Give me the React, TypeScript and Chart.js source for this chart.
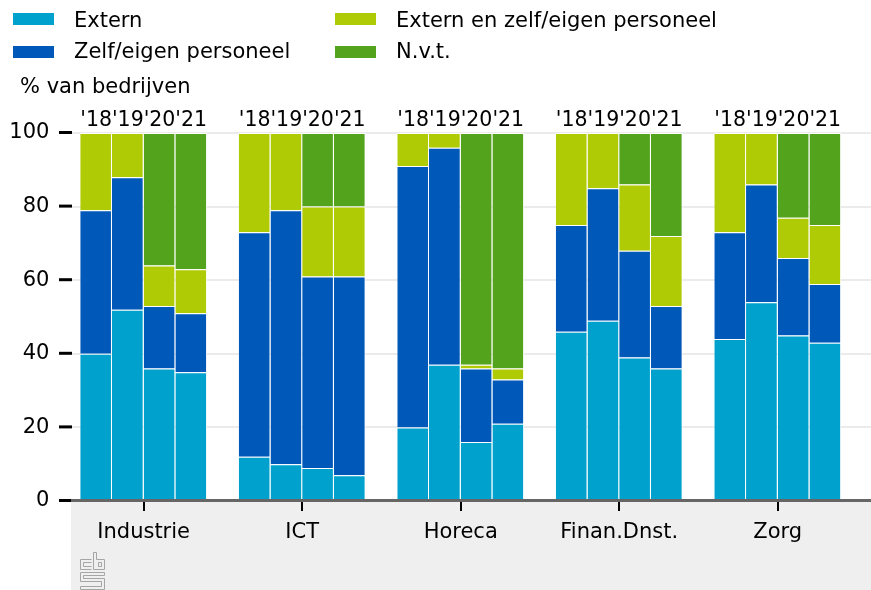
import React, { useEffect, useRef } from "react";
import { Chart, registerables } from "chart.js";

Chart.register(...registerables);

const categories = ["Industrie", "ICT", "Horeca", "Finan.Dnst.", "Zorg"];
const years = ["'18", "'19", "'20", "'21"];

// values per category (rows) and per year '18..'21 (columns), % van bedrijven
const extern = [
  [40, 52, 36, 35],
  [12, 10, 9, 7],
  [20, 37, 16, 21],
  [46, 49, 39, 36],
  [44, 54, 45, 43],
];
const zelfEigen = [
  [39, 36, 17, 16],
  [61, 69, 52, 54],
  [71, 59, 20, 12],
  [29, 36, 29, 17],
  [29, 32, 21, 16],
];
const externEnZelf = [
  [21, 12, 11, 12],
  [27, 21, 19, 19],
  [9, 4, 1, 3],
  [25, 15, 18, 19],
  [27, 14, 11, 16],
];
const nvt = [
  [0, 0, 36, 37],
  [0, 0, 20, 20],
  [0, 0, 63, 64],
  [0, 0, 14, 28],
  [0, 0, 23, 25],
];

const yTicks = [0, 20, 40, 60, 80, 100];

const series = [
  { label: "Extern", color: "#00a1cd", values: extern },
  { label: "Zelf/eigen personeel", color: "#0058b8", values: zelfEigen },
  { label: "Extern en zelf/eigen personeel", color: "#afcb05", values: externEnZelf },
  { label: "N.v.t.", color: "#53a31d", values: nvt },
];

const FONT = "'DejaVu Sans', sans-serif";

const decorPlugin = {
  id: "decor",
  beforeDraw(chart: any) {
    const { ctx, chartArea, scales } = chart;
    const y = scales.y;
    ctx.save();
    ctx.fillStyle = "#efefef";
    ctx.fillRect(71, chartArea.bottom, chart.width - 71, chart.height - chartArea.bottom);
    ctx.strokeStyle = "#ebebeb";
    ctx.lineWidth = 2;
    for (const v of yTicks) {
      if (v === 0) continue;
      const py = Math.round(y.getPixelForValue(v));
      ctx.beginPath();
      ctx.moveTo(72, py);
      ctx.lineTo(chart.width, py);
      ctx.stroke();
    }
    ctx.strokeStyle = "#000";
    ctx.lineWidth = 3;
    for (const v of yTicks) {
      const py = y.getPixelForValue(v);
      ctx.beginPath();
      ctx.moveTo(59, py - 0.5);
      ctx.lineTo(72, py - 0.5);
      ctx.stroke();
    }
    ctx.restore();
  },
  afterDatasetsDraw(chart: any) {
    const { ctx, chartArea } = chart;
    ctx.save();
    // axis line
    ctx.strokeStyle = "#666666";
    ctx.lineWidth = 3;
    ctx.beginPath();
    ctx.moveTo(71, chartArea.bottom - 0.5);
    ctx.lineTo(chart.width, chartArea.bottom - 0.5);
    ctx.stroke();

    // year labels above every bar
    ctx.fillStyle = "#000";
    ctx.font = `20.5px ${FONT}`;
    ctx.textAlign = "center";
    ctx.textBaseline = "alphabetic";
    years.forEach((yr, j) => {
      const meta = chart.getDatasetMeta(j * series.length);
      categories.forEach((_, i) => {
        const el = meta.data[i];
        if (el) ctx.fillText(yr, el.x, 126);
      });
    });

    // small logo
    ctx.strokeStyle = "#a5a5a5";
    ctx.lineWidth = 1;
    const L = (pts: number[][]) => {
      ctx.beginPath();
      ctx.moveTo(pts[0][0] + 0.5, pts[0][1] + 0.5);
      for (let k = 1; k < pts.length; k++) ctx.lineTo(pts[k][0] + 0.5, pts[k][1] + 0.5);
      ctx.stroke();
    };
    // c
    L([[91, 559], [80, 559], [80, 569], [91, 569]]);
    L([[91, 562], [83, 562], [83, 566], [91, 566]]);
    // b
    L([[93, 552], [93, 569], [104, 569], [104, 559], [96, 559], [96, 552], [93, 552]]);
    L([[98, 562], [101, 562], [101, 566], [98, 566], [98, 562]]);
    // s
    L([[104, 572], [80, 572], [80, 581], [101, 581], [101, 586], [80, 586], [80, 589], [104, 589], [104, 578], [83, 578], [83, 575], [104, 575], [104, 572]]);
    ctx.restore();
  },
};

export default function App() {
  const canvasRef = useRef<HTMLCanvasElement | null>(null);

  useEffect(() => {
    if (!canvasRef.current) return;
    const datasets: any[] = [];
    years.forEach((yr, j) => {
      series.forEach((s) => {
        datasets.push({
          label: s.label,
          stack: yr,
          data: categories.map((_, i) => (s.values[i][j] ? s.values[i][j] : null)),
          backgroundColor: s.color,
          borderColor: "#ffffff",
          borderWidth: { top: 1, right: 1, left: 0, bottom: 0 },
          borderSkipped: false,
          categoryPercentage: 0.8,
          barPercentage: 1.0,
        });
      });
    });

    const chart = new Chart(canvasRef.current, {
      type: "bar",
      data: { labels: categories, datasets },
      plugins: [decorPlugin as any],
      options: {
        responsive: false,
        animation: false,
        layout: { padding: { top: 133, right: 14, bottom: 0, left: 0 } },
        plugins: { legend: { display: false }, tooltip: { enabled: false } },
        scales: {
          x: {
            stacked: true,
            offset: true,
            grid: {
              display: true,
              drawOnChartArea: false,
              offset: false,
              tickLength: 10,
              color: "#000",
              lineWidth: 2,
            },
            border: { display: false },
            ticks: { color: "#000", font: { family: FONT, size: 21 }, padding: 9, maxRotation: 0 },
            afterFit: (scale: any) => {
              scale.height = 89;
            },
          },
          y: {
            stacked: true,
            min: 0,
            max: 100,
            grid: { display: false, drawTicks: false },
            border: { display: false },
            ticks: { stepSize: 20, color: "#000", font: { family: FONT, size: 21 }, padding: 15 },
            afterFit: (scale: any) => {
              scale.width = 64.4;
            },
          },
        },
      },
    });
    return () => chart.destroy();
  }, []);

  const legendText: React.CSSProperties = {
    position: "absolute",
    fontFamily: FONT,
    fontSize: 21,
    lineHeight: "24px",
    color: "#000",
    whiteSpace: "nowrap",
  };

  return (
    <div style={{ position: "absolute", left: 0, top: 0, width: 871, height: 590, background: "#fff", overflow: "hidden" }}>
      <canvas ref={canvasRef} width={871} height={590} style={{ display: "block", position: "absolute", left: 0, top: 0 }} />
      {series.map((s, i) => {
        const col = Math.floor(i / 2);
        const row = i % 2;
        const sx = col === 0 ? 13 : 335;
        const tx = col === 0 ? 74 : 396;
        const sy = row === 0 ? 13 : 46;
        const ty = row === 0 ? 8 : 39;
        return (
          <React.Fragment key={s.label}>
            <div style={{ position: "absolute", left: sx, top: sy, width: 41, height: 12, background: s.color }} />
            <div style={{ ...legendText, left: tx, top: ty }}>{s.label}</div>
          </React.Fragment>
        );
      })}
      <div style={{ ...legendText, left: 20, top: 74 }}>% van bedrijven</div>
    </div>
  );
}
